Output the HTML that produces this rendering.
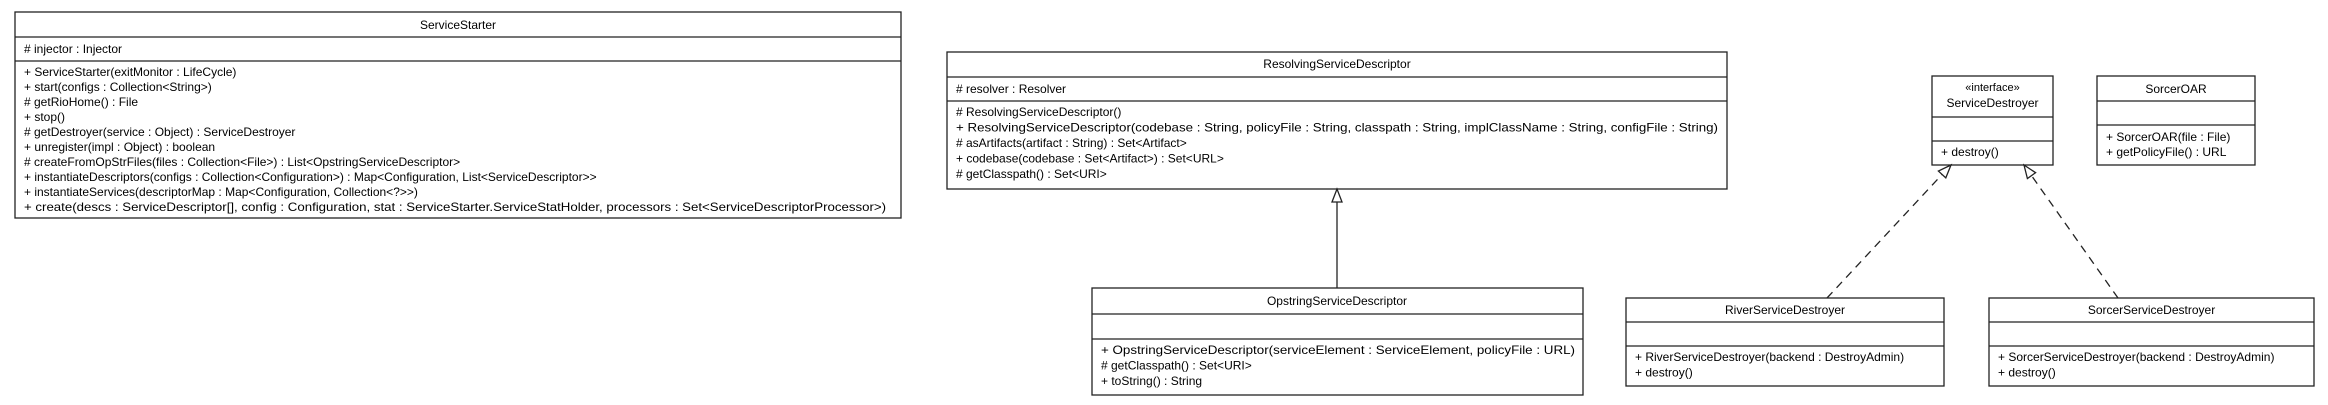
<!DOCTYPE html>
<html><head><meta charset="utf-8"><style>
html,body{margin:0;padding:0;background:#fff;}
svg{display:block;}
text{font-family:"Liberation Sans",Arial,sans-serif;font-size:12px;fill:#000;}
.c{text-anchor:middle;}
rect,line.s{stroke:#222;stroke-width:1.3;fill:#fff;}
</style></head><body>
<svg width="2328" height="405" viewBox="0 0 2328 405" xmlns="http://www.w3.org/2000/svg">
<!-- ServiceStarter -->
<rect x="15" y="12" width="886" height="206"/>
<line class="s" x1="15" y1="37" x2="901" y2="37"/>
<line class="s" x1="15" y1="61" x2="901" y2="61"/>
<text class="c" x="458" y="29">ServiceStarter</text>
<text x="24" y="53"># injector : Injector</text>
<text x="24" y="76">+ ServiceStarter(exitMonitor : LifeCycle)</text>
<text x="24" y="91">+ start(configs : Collection&lt;String&gt;)</text>
<text x="24" y="106"># getRioHome() : File</text>
<text x="24" y="121">+ stop()</text>
<text x="24" y="136"># getDestroyer(service : Object) : ServiceDestroyer</text>
<text x="24" y="151">+ unregister(impl : Object) : boolean</text>
<text x="24" y="166"># createFromOpStrFiles(files : Collection&lt;File&gt;) : List&lt;OpstringServiceDescriptor&gt;</text>
<text x="24" y="181">+ instantiateDescriptors(configs : Collection&lt;Configuration&gt;) : Map&lt;Configuration, List&lt;ServiceDescriptor&gt;&gt;</text>
<text x="24" y="196">+ instantiateServices(descriptorMap : Map&lt;Configuration, Collection&lt;?&gt;&gt;)</text>
<text x="24" y="211" textLength="862" lengthAdjust="spacingAndGlyphs">+ create(descs : ServiceDescriptor[], config : Configuration, stat : ServiceStarter.ServiceStatHolder, processors : Set&lt;ServiceDescriptorProcessor&gt;)</text>

<!-- ResolvingServiceDescriptor -->
<rect x="947" y="52" width="780" height="137"/>
<line class="s" x1="947" y1="77" x2="1727" y2="77"/>
<line class="s" x1="947" y1="101" x2="1727" y2="101"/>
<text class="c" x="1337" y="68">ResolvingServiceDescriptor</text>
<text x="956" y="93"># resolver : Resolver</text>
<text x="956" y="116"># ResolvingServiceDescriptor()</text>
<text x="956" y="131.5" textLength="762" lengthAdjust="spacingAndGlyphs">+ ResolvingServiceDescriptor(codebase : String, policyFile : String, classpath : String, implClassName : String, configFile : String)</text>
<text x="956" y="147"># asArtifacts(artifact : String) : Set&lt;Artifact&gt;</text>
<text x="956" y="162.5">+ codebase(codebase : Set&lt;Artifact&gt;) : Set&lt;URL&gt;</text>
<text x="956" y="178"># getClasspath() : Set&lt;URI&gt;</text>

<!-- generalization -->
<line class="s" x1="1337" y1="202" x2="1337" y2="288"/>
<polygon points="1337,189 1332,202 1342,202" fill="#fff" stroke="#222" stroke-width="1.3"/>

<!-- OpstringServiceDescriptor -->
<rect x="1092" y="288" width="491" height="107"/>
<line class="s" x1="1092" y1="314" x2="1583" y2="314"/>
<line class="s" x1="1092" y1="339" x2="1583" y2="339"/>
<text class="c" x="1337" y="305">OpstringServiceDescriptor</text>
<text x="1101" y="354" textLength="474" lengthAdjust="spacingAndGlyphs">+ OpstringServiceDescriptor(serviceElement : ServiceElement, policyFile : URL)</text>
<text x="1101" y="369.5"># getClasspath() : Set&lt;URI&gt;</text>
<text x="1101" y="385">+ toString() : String</text>

<!-- ServiceDestroyer -->
<rect x="1932" y="76" width="121" height="89"/>
<line class="s" x1="1932" y1="117" x2="2053" y2="117"/>
<line class="s" x1="1932" y1="141" x2="2053" y2="141"/>
<text class="c" x="1992.5" y="91" style="font-size:11px">«interface»</text>
<text class="c" x="1992.5" y="107">ServiceDestroyer</text>
<text x="1941" y="156">+ destroy()</text>

<!-- SorcerOAR -->
<rect x="2097" y="76" width="158" height="89"/>
<line class="s" x1="2097" y1="101" x2="2255" y2="101"/>
<line class="s" x1="2097" y1="125" x2="2255" y2="125"/>
<text class="c" x="2176" y="93">SorcerOAR</text>
<text x="2106" y="141">+ SorcerOAR(file : File)</text>
<text x="2106" y="156">+ getPolicyFile() : URL</text>

<!-- RiverServiceDestroyer -->
<rect x="1626" y="298" width="318" height="88"/>
<line class="s" x1="1626" y1="322" x2="1944" y2="322"/>
<line class="s" x1="1626" y1="346" x2="1944" y2="346"/>
<text class="c" x="1785" y="314">RiverServiceDestroyer</text>
<text x="1635" y="361">+ RiverServiceDestroyer(backend : DestroyAdmin)</text>
<text x="1635" y="376.5">+ destroy()</text>

<!-- SorcerServiceDestroyer -->
<rect x="1989" y="298" width="325" height="88"/>
<line class="s" x1="1989" y1="322" x2="2314" y2="322"/>
<line class="s" x1="1989" y1="346" x2="2314" y2="346"/>
<text class="c" x="2151.5" y="314">SorcerServiceDestroyer</text>
<text x="1998" y="361">+ SorcerServiceDestroyer(backend : DestroyAdmin)</text>
<text x="1998" y="376.5">+ destroy()</text>

<!-- realizations -->
<line x1="1827" y1="298" x2="1942.1" y2="174.5" stroke="#222" stroke-width="1.3" stroke-dasharray="8,6"/>
<polygon points="1951,165 1945.8,177.9 1938.4,171.1" fill="#fff" stroke="#222" stroke-width="1.3"/>
<line x1="2118" y1="298" x2="2031.5" y2="175.6" stroke="#222" stroke-width="1.3" stroke-dasharray="8,6"/>
<polygon points="2024,165 2035.6,172.7 2027.4,178.5" fill="#fff" stroke="#222" stroke-width="1.3"/>
</svg>
</body></html>
